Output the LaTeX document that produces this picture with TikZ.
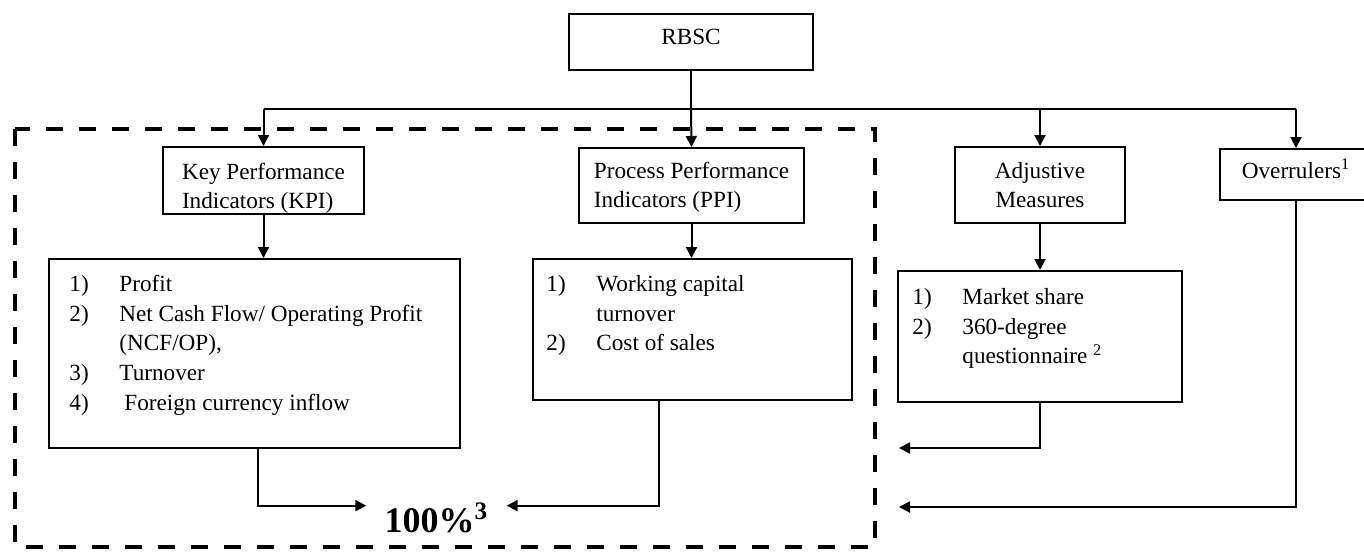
\documentclass[tikz,border=0pt]{standalone}
\usepackage{fontspec}
\setmainfont{Liberation Serif}
\usetikzlibrary{arrows.meta}

\newcommand{\itemno}[1]{\makebox[25pt][l]{#1}}

\tikzset{
  box/.style={draw, line width=1pt, inner sep=0pt, align=center,
    font=\fontsize{11.6}{14.5}\selectfont},
  listbox/.style={draw, line width=1pt, inner sep=0pt},
  listtext/.style={anchor=north west, inner sep=0pt, align=left,
    font=\fontsize{11.6}{14.85}\selectfont},
  wire/.style={line width=1pt},
  link/.style={line width=1pt, -{Triangle[length=5.5pt,width=5.5pt]}},
  frame/.style={line width=2pt, dash pattern=on 8.5pt off 8pt}
}

\begin{document}
\begin{tikzpicture}[x=0.5pt,y=-0.5pt]

    \useasboundingbox (0,0) rectangle (1364,554);

    % dashed frame round KPI and PPI
    \draw[frame] (15,129) rectangle (875,547);

    % ======================
    % top
    % ======================
    \node[box, minimum width=122pt, minimum height=28pt,
      text height=7.5pt, text depth=5.5pt] (rbsc) at (691,42) {RBSC};

    % ======================
    % headings
    % ======================
    \node[box, align=left, minimum width=100.5pt, minimum height=33.5pt] (kpi) at (263.5,180.5)
      {\rule{0pt}{15.5pt}Key Performance\\Indicators (KPI)};
    \node[box, align=left, minimum width=112.5pt, minimum height=37.5pt] (ppi) at (691.5,185.5)
      {\rule{0pt}{9.5pt}Process Performance\\Indicators (PPI)};
    \node[box, minimum width=85pt, minimum height=38pt] (adj) at (1040,185)
      {Adjustive\\Measures};
    \node[box, minimum width=76pt, minimum height=25.5pt,
      text height=8pt, text depth=4.5pt] (over) at (1296,174.5)
      {Overrulers\textsuperscript{1}};

    % ======================
    % lists
    % ======================
    \node[listbox, minimum width=205.5pt, minimum height=94.5pt] (kpilist) at (254.5,353.5) {};
    \node[listtext] (kpiitems) at ([xshift=10.5pt,yshift=-8.4pt]kpilist.north west)
      {\itemno{1)}Profit\\
       \itemno{2)}Net Cash Flow/ Operating Profit\\
       \itemno{}(NCF/OP),\\
       \itemno{3)}Turnover\\
       \itemno{4)}\hspace{2.5pt}Foreign currency inflow};

    \node[listbox, minimum width=159.5pt, minimum height=70.5pt] (ppilist) at (692.5,329.5) {};
    \node[listtext] (ppiitems) at ([xshift=7pt,yshift=-8.4pt]ppilist.north west)
      {\itemno{1)}Working capital\\
       \itemno{}turnover\\
       \itemno{2)}Cost of sales};

    \node[listbox, minimum width=142pt, minimum height=65.5pt] (adjlist) at (1040,336.5) {};
    \node[listtext] (adjitems) at ([xshift=7.5pt,yshift=-9pt]adjlist.north west)
      {\itemno{1)}Market share\\
       \itemno{2)}360-degree\\
       \itemno{}questionnaire \textsuperscript{2}};

    % total
    \node[inner xsep=9pt, inner ysep=0pt, anchor=base,
      font=\fontsize{18}{20}\selectfont\bfseries] (total) at (436.5,532)
      {100\%\textsuperscript{3}};

    % free ends at the frame
    \coordinate (adjin) at (899,448);
    \coordinate (overin) at (899,507);

    % ======================
    % connectors
    % ======================
    \coordinate (bus) at (691,109);
    \draw[wire] (kpi.north |- bus) -- (over.north |- bus);
    \draw[wire] (rbsc.south) -- (bus);
    \draw[link] (kpi.north |- bus) -- (kpi.north);
    \draw[link] (bus) -- (ppi.north);
    \draw[link] (adj.north |- bus) -- (adj.north);
    \draw[link] (over.north |- bus) -- (over.north);

    \draw[link] (kpi.south) -- (kpi.south |- kpilist.north);
    \draw[link] (ppi.south) -- (ppi.south |- ppilist.north);
    \draw[link] (adj.south) -- (adjlist.north);

    \draw[link] ([xshift=1.75pt]kpilist.south) |- ([yshift=6pt]total.west);
    \draw[link] ([xshift=-17pt]ppilist.south) |- ([yshift=6pt]total.east);
    \draw[link] (adjlist.south) |- (adjin);
    \draw[link] (over.south) |- (overin);

  \end{tikzpicture}
\end{document}
